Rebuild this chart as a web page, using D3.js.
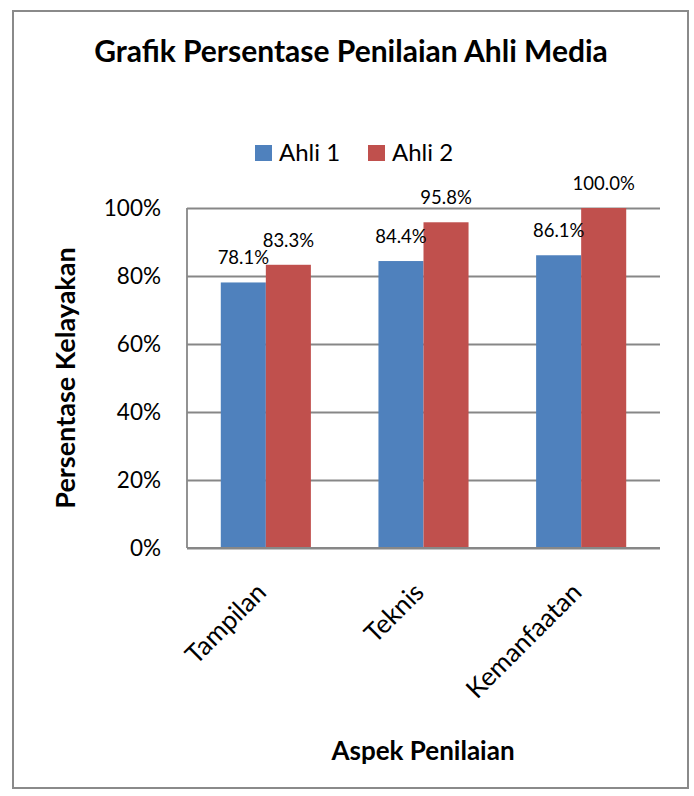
<!DOCTYPE html>
<html>
<head>
<meta charset="utf-8">
<script src="https://cdn.jsdelivr.net/npm/d3@7"></script>
<style>
  html, body { margin: 0; padding: 0; background: #fff; }
  svg { display: block; }
  text { font-family: Lato, "Open Sans", sans-serif; fill: #000; }
</style>
</head>
<body>
<svg id="chart" width="694" height="796"></svg>
<script>
// Aspects assessed and the scores from each media expert (in percent)
const categories = ["Tampilan", "Teknis", "Kemanfaatan"];
const seriesNames = ["Ahli 1", "Ahli 2"];
const ahli1 = [78.1, 84.4, 86.1];
const ahli2 = [83.3, 95.8, 100.0];
const yTicks = [0, 20, 40, 60, 80, 100];
const colors = ["#4F81BD", "#C0504D"];

const seriesValues = [ahli1, ahli2];
const rows = categories.map((c, i) => ({
  category: c,
  values: seriesNames.map((s, j) => ({ series: s, value: seriesValues[j][i], idx: j }))
}));

const svg = d3.select("#chart");

// outer chart frame
svg.append("rect")
  .attr("x", 13).attr("y", 11)
  .attr("width", 675).attr("height", 777)
  .attr("fill", "#fff")
  .attr("stroke", "#8a8a8a")
  .attr("stroke-width", 2);

const plot = { left: 187, right: 660, top: 208, bottom: 548 };

const x0 = d3.scaleBand()
  .domain(categories)
  .range([plot.left, plot.right]);

// gap between groups is 1.5 bar widths
const bandStep = x0.step();
const barW = bandStep / 3.5;
const x1 = d3.scaleBand()
  .domain(seriesNames)
  .range([0, barW * 2]);

const xCenter = c => x0(c) + x0.bandwidth() / 2;

const y = d3.scaleLinear()
  .domain([0, 100])
  .range([plot.bottom, plot.top]);

// horizontal gridlines with percent labels
const yAxis = d3.axisLeft(y)
  .tickValues(yTicks)
  .tickSize(-(plot.right - plot.left))
  .tickPadding(26)
  .tickFormat(d => d + "%");

const gy = svg.append("g")
  .attr("transform", `translate(${plot.left},0)`)
  .call(yAxis);
gy.select(".domain").remove();
gy.selectAll(".tick line")
  .attr("stroke", "#878787")
  .attr("stroke-width", 1.8);
gy.selectAll(".tick text")
  .attr("font-family", "Lato, sans-serif")
  .attr("font-size", 22.5)
  .attr("fill", "#000");

// vertical axis line
svg.append("line")
  .attr("x1", plot.left).attr("x2", plot.left)
  .attr("y1", plot.top).attr("y2", plot.bottom)
  .attr("stroke", "#878787")
  .attr("stroke-width", 1.8);

// bars
const groups = svg.append("g").selectAll("g")
  .data(rows)
  .join("g")
  .attr("transform", d => `translate(${xCenter(d.category) - barW},0)`);

groups.selectAll("rect")
  .data(d => d.values)
  .join("rect")
  .attr("x", d => x1(d.series))
  .attr("y", d => y(d.value))
  .attr("width", x1.bandwidth())
  .attr("height", d => y(0) - y(d.value))
  .attr("fill", d => colors[d.idx]);

// value labels above each bar
groups.selectAll("text")
  .data(d => d.values)
  .join("text")
  .attr("x", d => x1(d.series) + x1.bandwidth() / 2)
  .attr("y", d => y(d.value) - 18)
  .attr("text-anchor", "middle")
  .attr("font-size", 18.5)
  .text(d => d.value.toFixed(1) + "%");

// baseline drawn over bar bottoms
svg.append("line")
  .attr("x1", plot.left).attr("x2", plot.right)
  .attr("y1", y(0)).attr("y2", y(0))
  .attr("stroke", "#878787")
  .attr("stroke-width", 1.8);

// rotated category labels
const xAxis = d3.axisBottom(x0).tickSize(0).tickPadding(0);
const gx = svg.append("g")
  .attr("transform", `translate(0,${plot.bottom})`)
  .call(xAxis);
gx.select(".domain").remove();
gx.selectAll(".tick text")
  .attr("font-family", "Lato, sans-serif")
  .attr("font-size", 26)
  .attr("fill", "#000")
  .attr("text-anchor", "end")
  .attr("dy", null)
  .attr("y", 0)
  .attr("transform", "translate(2,46) rotate(-45)");

// title
svg.append("text")
  .attr("x", 351).attr("y", 62)
  .attr("text-anchor", "middle")
  .attr("font-weight", "bold")
  .attr("font-size", 30)
  .text("Grafik Persentase Penilaian Ahli Media");

// legend
const legend = svg.append("g").attr("transform", "translate(255,145)");
const legItems = legend.selectAll("g")
  .data(seriesNames)
  .join("g")
  .attr("transform", (d, i) => `translate(${i * 113},0)`);
legItems.append("rect")
  .attr("width", 17).attr("height", 16)
  .attr("fill", (d, i) => colors[i]);
legItems.append("text")
  .attr("x", 24).attr("y", 16)
  .attr("font-size", 24)
  .text(d => d);

// axis titles
svg.append("text")
  .attr("transform", "translate(75,378) rotate(-90)")
  .attr("text-anchor", "middle")
  .attr("font-weight", "bold")
  .attr("font-size", 27)
  .text("Persentase Kelayakan");

svg.append("text")
  .attr("x", 423).attr("y", 760)
  .attr("text-anchor", "middle")
  .attr("font-weight", "bold")
  .attr("font-size", 26)
  .text("Aspek Penilaian");
</script>
</body>
</html>
